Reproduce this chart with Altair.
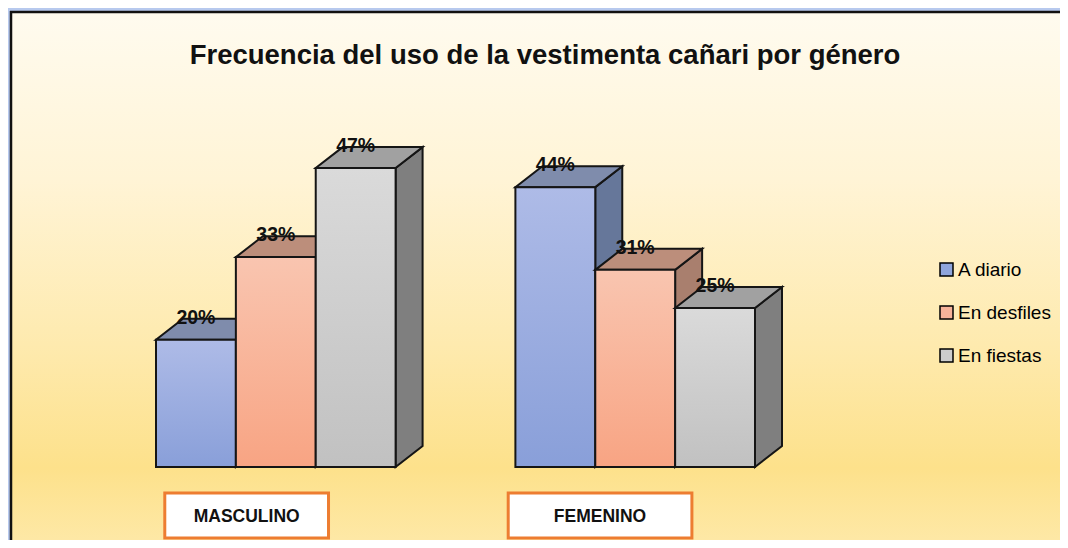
import altair as alt
import pandas as pd

# ---------------- data ----------------
groups = ["MASCULINO", "FEMENINO"]
series = ["A diario", "En desfiles", "En fiestas"]
masculino = [20, 33, 47]
femenino = [44, 31, 25]
values_by_group = [masculino, femenino]
title_text = "Frecuencia del uso de la vestimenta cañari por género"

# ---------------- styles / layout ----------------
front_top = ["#aebbe7", "#f9c5b0", "#dadada"]
front_bot = ["#899fd9", "#f8a483", "#c1c1c1"]
top_col = ["#7f8cac", "#bc8e7b", "#a1a1a1"]
side_col = ["#66779a", "#a97f6e", "#7f7f7f"]
legend_col = ["#8fa5dc", "#f7b39a", "#cdcdcd"]
OUTLINE = "#151515"
FONT = "Liberation Sans, Arial, sans-serif"

GROUP_STEP = 4.5   # distance between group starts, in bar widths
DX = 0.338         # 3D depth, horizontal (bar widths)
DY = 3.3           # 3D depth, vertical (percent units)
BOX = {"MASCULINO": (0.11, 2.16), "FEMENINO": (-0.09, 2.21)}  # label boxes rel. to group start

# ---------------- tables ----------------
rows, side_rows, top_rows, box_rows = [], [], [], []
for gi, g in enumerate(groups):
    g0 = gi * GROUP_STEP
    b0, b1 = BOX[g]
    box_rows.append(dict(group=g, x0=g0 + b0, x1=g0 + b1, xc=g0 + (b0 + b1) / 2))
    for si, s in enumerate(series):
        v = values_by_group[gi][si]
        xl = g0 + si
        xr = xl + 1
        bar = f"{g}-{s}"
        rows.append(dict(group=g, series=s, value=v, base=0, xl=xl, xr=xr,
                         xc=xl + 0.5, label=f"{v}%", bar=bar))
        side_rows += [
            dict(series=s, bar=bar, x=xr, y=0, y2=v),
            dict(series=s, bar=bar, x=xr + DX, y=DY, y2=v + DY),
        ]
        top_rows += [
            dict(series=s, bar=bar, x=xl, y=v, y2=v),
            dict(series=s, bar=bar, x=xl + DX, y=v, y2=v + DY),
            dict(series=s, bar=bar, x=xr, y=v, y2=v + DY),
            dict(series=s, bar=bar, x=xr + DX, y=v + DY, y2=v + DY),
        ]
bars = pd.DataFrame(rows)
sides = pd.DataFrame(side_rows)
tops = pd.DataFrame(top_rows)
boxes = pd.DataFrame(box_rows)
one = pd.DataFrame({"t": [title_text]})

xs = alt.Scale(domain=[0, 7.5], range=[148, 747])
ys = alt.Scale(domain=[0, 100], range=[459, 459 - 636])


def grad(stops, y2=1):
    return alt.Gradient(
        gradient="linear", x1=0, x2=0, y1=0, y2=y2,
        stops=[alt.GradientStop(color=c, offset=o) for o, c in stops],
    )


layers = []

# frame background gradient
layers.append(
    alt.Chart(one).mark_rect(
        fill=grad([(0, "#fffbef"), (0.3, "#fff4d6"), (0.6, "#feeaae"),
                   (0.82, "#fde18b"), (1, "#feebb0")]),
    ).encode(x=alt.value(3), x2=alt.value(1070), y=alt.value(4), y2=alt.value(560))
)
# frame border (left and top edges; the others run off the page)
layers.append(
    alt.Chart(one).mark_rule(color="#111111", strokeWidth=2.5).encode(
        x=alt.value(3), y=alt.value(3), y2=alt.value(560))
)
layers.append(
    alt.Chart(one).mark_rule(color="#111111", strokeWidth=2.5).encode(
        x=alt.value(2), x2=alt.value(1070), y=alt.value(4))
)

for si, s in enumerate(series):
    side = alt.Chart(sides).transform_filter(alt.datum.series == s).mark_area(
        fill=side_col[si], stroke=OUTLINE, strokeWidth=2, strokeJoin="miter"
    ).encode(
        x=alt.X("x:Q", scale=xs, axis=None),
        y=alt.Y("y:Q", scale=ys, axis=None),
        y2="y2:Q",
        detail="bar:N",
    )
    top = alt.Chart(tops).transform_filter(alt.datum.series == s).mark_area(
        fill=top_col[si], stroke=OUTLINE, strokeWidth=2, strokeJoin="miter"
    ).encode(
        x=alt.X("x:Q", scale=xs, axis=None),
        y=alt.Y("y:Q", scale=ys, axis=None),
        y2="y2:Q",
        detail="bar:N",
    )
    front = alt.Chart(bars).transform_filter(alt.datum.series == s).mark_rect(
        fill=grad([(0, front_top[si]), (1, front_bot[si])]),
        stroke=OUTLINE, strokeWidth=2,
    ).encode(
        x=alt.X("xl:Q", scale=xs, axis=None),
        x2="xr:Q",
        y=alt.Y("value:Q", scale=ys, axis=None),
        y2="base:Q",
    )
    layers += [side, top, front]

# value labels
layers.append(
    alt.Chart(bars).mark_text(
        font=FONT, fontSize=19.5, fontWeight="bold", color="#111111",
        align="center", baseline="alphabetic", dy=-16,
    ).encode(
        x=alt.X("xc:Q", scale=xs, axis=None),
        y=alt.Y("value:Q", scale=ys, axis=None),
        text="label:N",
    )
)

# category boxes
layers.append(
    alt.Chart(boxes).mark_rect(fill="white", stroke="#ed7d31", strokeWidth=3).encode(
        x=alt.X("x0:Q", scale=xs, axis=None),
        x2="x1:Q",
        y=alt.value(485),
        y2=alt.value(530),
    )
)
layers.append(
    alt.Chart(boxes).mark_text(
        font=FONT, fontSize=17.5, fontWeight="bold", color="#111111",
        align="center", baseline="alphabetic",
    ).encode(
        x=alt.X("xc:Q", scale=xs, axis=None),
        y=alt.value(514),
        text="group:N",
    )
)

# title
layers.append(
    alt.Chart(one).mark_text(
        font=FONT, fontSize=27.5, fontWeight="bold", color="#111111",
        align="center", baseline="alphabetic",
    ).encode(x=alt.value(537), y=alt.value(56), text="t:N")
)

# legend carrier
layers.append(
    alt.Chart(bars).mark_square(opacity=0, size=10).encode(
        x=alt.X("xc:Q", scale=xs, axis=None),
        y=alt.Y("value:Q", scale=ys, axis=None),
        color=alt.Color(
            "series:N",
            scale=alt.Scale(domain=series, range=legend_col),
            legend=alt.Legend(
                title=None, orient="none", legendX=929, legendY=252,
                symbolType="square", symbolSize=169, symbolOpacity=1,
                symbolStrokeColor="black", symbolStrokeWidth=1.5,
                labelFont=FONT, labelFontSize=19, labelColor="black",
                labelOffset=2, rowPadding=23, padding=0, labelLimit=300,
            ),
        ),
    )
)

chart = alt.layer(*layers).properties(
    width=1052, height=532,
    autosize=alt.AutoSizeParams(type="none"),
    padding=0,
    background="#b7c9ee",
).configure_view(stroke="transparent", strokeWidth=0)

chart.save("out.html", embed_options={"renderer": "svg", "actions": False})
